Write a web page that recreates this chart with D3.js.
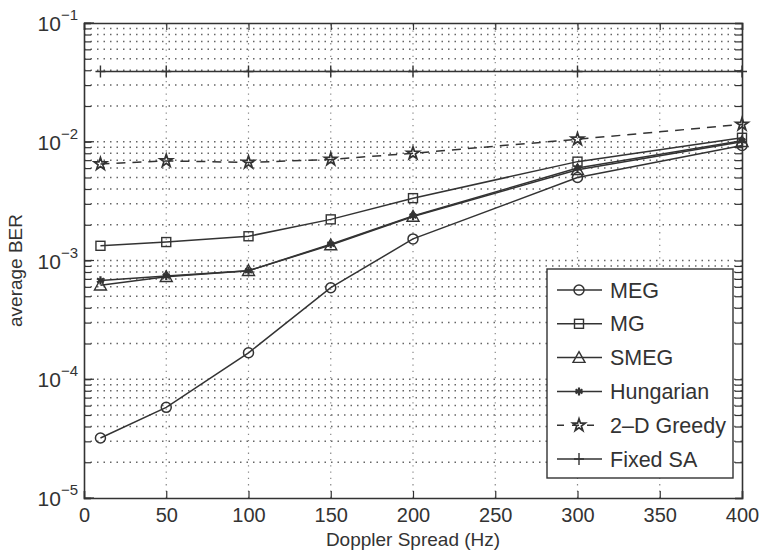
<!DOCTYPE html>
<html>
<head>
<meta charset="utf-8">
<script src="https://cdn.jsdelivr.net/npm/d3@7"></script>
<style>
  body { margin: 0; background: #fff; }
  text { font-family: "Liberation Sans", Arial, sans-serif; fill: #333; }
</style>
</head>
<body>
<div id="chart"></div>
<script>
// data
var doppler = [10, 50, 100, 150, 200, 300, 400];
var megBer = [3.2e-5, 5.8e-5, 1.67e-4, 5.9e-4, 1.52e-3, 5.0e-3, 9.3e-3];
var mgBer = [1.33e-3, 1.43e-3, 1.6e-3, 2.22e-3, 3.35e-3, 6.8e-3, 1.08e-2];
var smegBer = [6.2e-4, 7.3e-4, 8.2e-4, 1.35e-3, 2.35e-3, 5.8e-3, 1.0e-2];
var hungarianBer = [6.8e-4, 7.4e-4, 8.2e-4, 1.37e-3, 2.37e-3, 6.0e-3, 1.02e-2];
var greedyBer = [6.5e-3, 6.9e-3, 6.7e-3, 7.1e-3, 8.0e-3, 1.05e-2, 1.4e-2];
var fixedSaBer = [0.039, 0.039, 0.039, 0.039, 0.039, 0.039, 0.039];

var seriesNames = ['MEG', 'MG', 'SMEG', 'Hungarian', '2\u2013D Greedy', 'Fixed SA'];
var xTicks = [0, 50, 100, 150, 200, 250, 300, 350, 400];
var yExponents = [-5, -4, -3, -2, -1];

var width = 765,
    height = 553,
    margin = {top: 23, right: 23, bottom: 55, left: 84},
    ink = '#333';

var series = [
  {name: seriesNames[0], values: megBer, marker: 'circle', dash: null},
  {name: seriesNames[1], values: mgBer, marker: 'square', dash: null},
  {name: seriesNames[2], values: smegBer, marker: 'triangle', dash: null},
  {name: seriesNames[3], values: hungarianBer, marker: 'asterisk', dash: null},
  {name: seriesNames[4], values: greedyBer, marker: 'star', dash: '9,7'},
  {name: seriesNames[5], values: fixedSaBer, marker: 'plus', dash: null}
];

var x = d3.scaleLinear().domain([0, 400]).range([margin.left, width - margin.right]);
var y = d3.scaleLog().domain([1e-5, 1e-1]).range([height - margin.bottom, margin.top]);

var svg = d3.select('#chart')
  .append('svg')
    .attr('width', width)
    .attr('height', height);

// minor + major log positions
var yGrid = [];
for (var e = -5; e < -1; e++) {
  for (var m = 1; m < 10; m++) yGrid.push(m * Math.pow(10, e));
}
yGrid.push(1e-1);

// grid
svg.append('g').selectAll('line.hgrid')
  .data(yGrid.filter(function (v) { return v > 1e-5 && v < 1e-1; }))
  .enter().append('line')
    .attr('x1', x(0)).attr('x2', x(400))
    .attr('y1', function (d) { return y(d); })
    .attr('y2', function (d) { return y(d); })
    .attr('stroke', '#666')
    .attr('stroke-width', 1.5)
    .attr('stroke-dasharray', '1.5,5');

svg.append('g').selectAll('line.vgrid')
  .data(xTicks.slice(1, -1))
  .enter().append('line')
    .attr('x1', function (d) { return x(d); })
    .attr('x2', function (d) { return x(d); })
    .attr('y1', y(1e-5)).attr('y2', y(1e-1))
    .attr('stroke', '#888')
    .attr('stroke-width', 1.2)
    .attr('stroke-dasharray', '1.3,5');

// axes (ticks inward, box on all sides)
var xAxisB = d3.axisBottom(x).tickValues(xTicks).tickSize(-7).tickPadding(10).tickFormat(d3.format('d'));
var xAxisT = d3.axisTop(x).tickValues(xTicks).tickSize(-7).tickFormat('');
var yAxisL = d3.axisLeft(y).tickValues(yGrid).tickSize(-7).tickFormat('');
var yAxisR = d3.axisRight(y).tickValues(yGrid).tickSize(-7).tickFormat('');

function styleAxis(g) {
  g.selectAll('path').attr('stroke', ink).attr('stroke-width', 1.6);
  g.selectAll('line').attr('stroke', ink).attr('stroke-width', 1.2);
  g.selectAll('text').attr('fill', ink).style('font-size', '20px')
    .style('font-family', '"Liberation Sans", Arial, sans-serif');
}

svg.append('g').attr('transform', 'translate(0,' + y(1e-5) + ')').call(xAxisB).call(styleAxis);
svg.append('g').attr('transform', 'translate(0,' + y(1e-1) + ')').call(xAxisT).call(styleAxis);
svg.append('g').attr('transform', 'translate(' + x(0) + ',0)').call(yAxisL).call(styleAxis);
svg.append('g').attr('transform', 'translate(' + x(400) + ',0)').call(yAxisR).call(styleAxis);

// major ticks on the log axis are a bit longer
svg.append('g').selectAll('line')
  .data(yExponents)
  .enter().append('line')
    .attr('x1', x(0)).attr('x2', x(0) + 10)
    .attr('y1', function (d) { return y(Math.pow(10, d)); })
    .attr('y2', function (d) { return y(Math.pow(10, d)); })
    .attr('stroke', ink).attr('stroke-width', 1.2);

// y tick labels: 10^n
var yLab = svg.append('g').selectAll('text')
  .data(yExponents)
  .enter().append('text')
    .attr('x', x(0) - 6)
    .attr('y', function (d) { return y(Math.pow(10, d)) + 8; })
    .attr('text-anchor', 'end')
    .style('font-size', '21px');
yLab.append('tspan').text('10');
yLab.append('tspan')
  .attr('dy', -11)
  .style('font-size', '15px')
  .text(function (d) { return '\u2212' + Math.abs(d); });

// axis titles
svg.append('text')
  .attr('x', (x(0) + x(400)) / 2)
  .attr('y', height - 7)
  .attr('text-anchor', 'middle')
  .style('font-size', '19px')
  .text('Doppler Spread (Hz)');

svg.append('text')
  .attr('transform', 'translate(22,' + ((y(1e-5) + y(1e-1)) / 2 + 10) + ') rotate(-90)')
  .attr('text-anchor', 'middle')
  .style('font-size', '19px')
  .text('average BER');

// markers
function drawMarker(g, type, cx, cy) {
  var s;
  if (type === 'circle') {
    g.append('circle').attr('cx', cx).attr('cy', cy).attr('r', 5)
      .attr('fill', 'none').attr('stroke', ink).attr('stroke-width', 1.5);
  } else if (type === 'square') {
    g.append('rect').attr('x', cx - 4.5).attr('y', cy - 4.5).attr('width', 9).attr('height', 9)
      .attr('fill', 'none').attr('stroke', ink).attr('stroke-width', 1.4);
  } else if (type === 'triangle') {
    s = 6;
    g.append('path')
      .attr('d', 'M' + cx + ',' + (cy - s) + 'L' + (cx + s) + ',' + (cy + s * 0.8) + 'L' + (cx - s) + ',' + (cy + s * 0.8) + 'Z')
      .attr('fill', 'none').attr('stroke', ink).attr('stroke-width', 1.4);
  } else if (type === 'asterisk') {
    g.append('path').attr('d', d3.symbol().type(d3.symbolAsterisk).size(45)())
      .attr('transform', 'translate(' + cx + ',' + cy + ')')
      .attr('fill', 'none').attr('stroke', ink).attr('stroke-width', 2.2);
  } else if (type === 'star') {
    g.append('path').attr('d', d3.symbol().type(d3.symbolStar).size(48)())
      .attr('transform', 'translate(' + cx + ',' + cy + ')')
      .attr('fill', 'none').attr('stroke', ink).attr('stroke-width', 1.7);
  } else if (type === 'plus') {
    g.append('path').attr('d', 'M' + (cx - 5) + ',' + cy + 'H' + (cx + 5) + 'M' + cx + ',' + (cy - 6) + 'V' + (cy + 6))
      .attr('stroke', ink).attr('stroke-width', 1.4);
  }
}

var line = d3.line()
  .x(function (d) { return x(d.x); })
  .y(function (d) { return y(d.y); });

series.forEach(function (s) {
  var pts = doppler.map(function (dx, i) { return {x: dx, y: s.values[i]}; });
  var g = svg.append('g').classed('series', true);
  g.append('path')
    .datum(pts)
    .attr('d', line)
    .attr('fill', 'none')
    .attr('stroke', ink)
    .attr('stroke-width', 1.5)
    .attr('stroke-dasharray', s.dash);
  pts.forEach(function (p) { drawMarker(g, s.marker, x(p.x), y(p.y)); });
});

// legend
var lx = 547, ly = 269, lw = 186, lh = 209, rowH = 33.8;
var legend = svg.append('g');
legend.append('rect')
  .attr('x', lx).attr('y', ly).attr('width', lw).attr('height', lh)
  .attr('fill', '#fff').attr('stroke', ink).attr('stroke-width', 1.4);

series.forEach(function (s, i) {
  var cy = ly + 21 + i * rowH;
  legend.append('line')
    .attr('x1', lx + 10).attr('x2', lx + 55)
    .attr('y1', cy).attr('y2', cy)
    .attr('stroke', ink).attr('stroke-width', 1.5)
    .attr('stroke-dasharray', s.dash ? '7,8' : null);
  drawMarker(legend, s.marker, lx + 32, cy);
  legend.append('text')
    .attr('x', lx + 63).attr('y', cy + 7.5)
    .style('font-size', '21.5px')
    .text(s.name);
});
</script>
</body>
</html>
